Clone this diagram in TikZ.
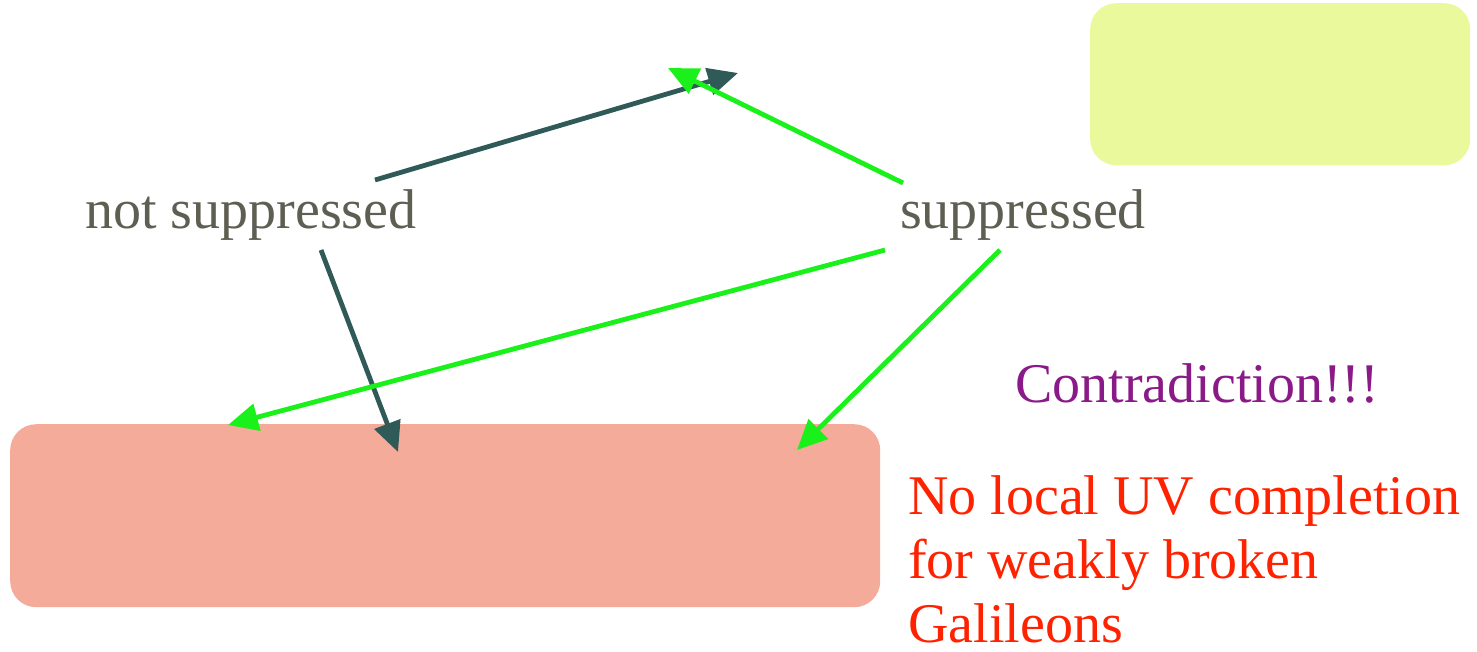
\documentclass[tikz,border=0pt]{standalone}
\usepackage{fontspec}
\setmainfont{Liberation Serif}
\usetikzlibrary{arrows.meta}
\definecolor{boxsalmon}{HTML}{F4AB99}
\definecolor{boxlime}{HTML}{EAF99B}
\definecolor{darkarrow}{HTML}{2F5A57}
\definecolor{greenarrow}{HTML}{1AF01A}
\definecolor{labelgray}{HTML}{5E5E52}
\definecolor{contrapurple}{HTML}{8B1A89}
\definecolor{conclred}{HTML}{FF2200}
\tikzset{
  panel/.style={rounded corners=26pt, inner sep=0pt, anchor=north west},
  bigtext/.style={font=\fontsize{56}{64}\selectfont, inner sep=0pt},
  darkline/.style={darkarrow, line width=4.8pt, -{Triangle[length=30pt,width=27pt]}},
  greenline/.style={greenarrow, line width=4.8pt, -{Triangle[length=30pt,width=27pt]}},
}
\begin{document}
\begin{tikzpicture}[x=1pt,y=-1pt]
\useasboundingbox (0,0) rectangle (1477,651);

% shaded panels
\node[panel, fill=boxlime, minimum width=380pt, minimum height=162pt] (lime) at (1090,3) {};
\node[panel, fill=boxsalmon, minimum width=870pt, minimum height=183pt] (salmon) at (10,424) {};

% labels
\node[bigtext, anchor=base west, text=labelgray] (notsup) at (85,228) {not suppressed};
\node[bigtext, anchor=base west, text=labelgray] (sup) at (900,228) {suppressed};
\node[bigtext, anchor=base west, text=contrapurple] (contra) at (1015,402) {Contradiction!!!};
\node[bigtext, anchor=north west, text=conclred, align=left] (concl) at (908,475)
  {No local UV completion\\for weakly broken\\Galileons};

% arrow end points
\coordinate (a1s) at (375,180);
\coordinate (a1e) at (738,73);
\coordinate (a2s) at (903,183);
\coordinate (a2e) at (668,68);
\coordinate (a3s) at (321,250);
\coordinate (a3e) at (398,452);
\coordinate (a4s) at (885,250);
\coordinate (a4e) at (228,425);
\coordinate (a5s) at (1000,250);
\coordinate (a5e) at (797,450);

% connectors
\draw[darkline] (a1s) -- (a1e);
\draw[greenline] (a2s) -- (a2e);
\draw[darkline] (a3s) -- (a3e);
\draw[greenline] (a4s) -- (a4e);
\draw[greenline] (a5s) -- (a5e);
\end{tikzpicture}
\end{document}
